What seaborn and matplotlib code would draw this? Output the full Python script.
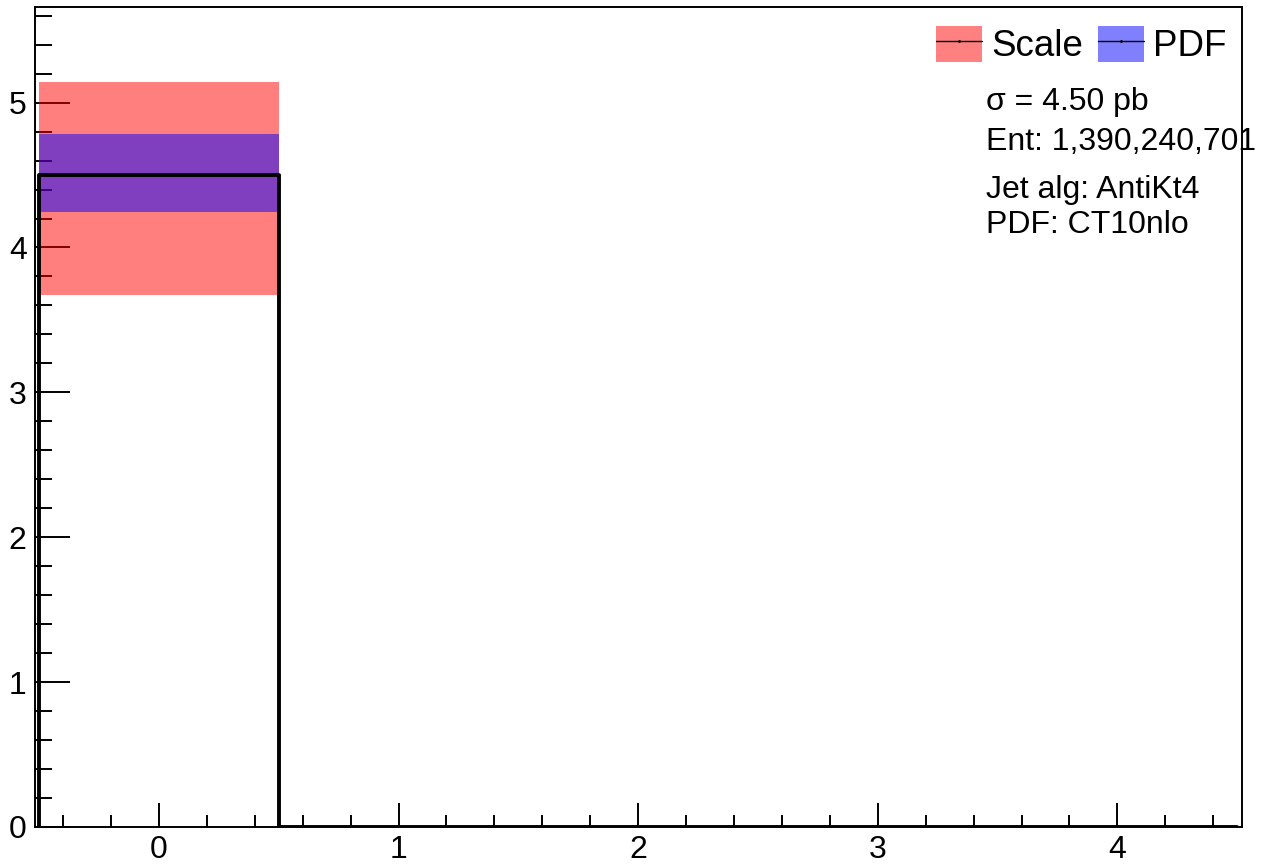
import numpy as np
import pandas as pd
import matplotlib
matplotlib.use("Agg")
import matplotlib.pyplot as plt
import seaborn as sns
from matplotlib.patches import Patch
from matplotlib.lines import Line2D
from matplotlib.legend_handler import HandlerTuple
from matplotlib.ticker import MultipleLocator

# ==========================================
# DATA
# ==========================================

bin_edges = [-0.5, 0.5, 1.5, 2.5, 3.5, 4.5]
bin_centers = [0, 1, 2, 3, 4]
xsec = [4.50, 0, 0, 0, 0]
scale_lo = [3.67, 0, 0, 0, 0]
scale_hi = [5.145, 0, 0, 0, 0]
pdf_lo = [4.247, 0, 0, 0, 0]
pdf_hi = [4.786, 0, 0, 0, 0]

info_lines = [
    "\u03c3 = 4.50 pb",
    "Ent: 1,390,240,701",
    "Jet alg: AntiKt4",
    "PDF: CT10nlo",
]

df = pd.DataFrame({"x": bin_centers, "w": xsec})

# ==========================================
# STYLE
# ==========================================

sns.set_style("ticks")
plt.rcParams["font.family"] = ["Liberation Sans", "DejaVu Sans"]
plt.rcParams["text.color"] = "black"
plt.rcParams["xtick.labelcolor"] = "black"
plt.rcParams["ytick.labelcolor"] = "black"

fig = plt.figure(figsize=(12.61, 8.65), dpi=100)
ax = fig.add_axes([35 / 1261, 38 / 865, 1207 / 1261, 820 / 865])

# ==========================================
# UNCERTAINTY BANDS
# ==========================================

ax.stairs(scale_hi, bin_edges, baseline=scale_lo, fill=True,
          color="red", alpha=0.5, lw=0, zorder=3)
ax.stairs(pdf_hi, bin_edges, baseline=pdf_lo, fill=True,
          color="blue", alpha=0.5, lw=0, zorder=3)

# ==========================================
# CENTRAL HISTOGRAM
# ==========================================

sns.histplot(
    data=df,
    x="x",
    weights="w",
    bins=bin_edges,
    element="step",
    fill=False,
    color="black",
    linewidth=2.8,
    ax=ax,
    zorder=4,
)
# left edge of the first bin up from zero
ax.vlines(bin_edges[0], 0, xsec[0], color="black", lw=2.8, zorder=4)

ax.set_xlim(-0.517, 4.52)
ax.set_ylim(0, 5.66)
ax.set_xlabel("")
ax.set_ylabel("")

ax.xaxis.set_major_locator(MultipleLocator(1))
ax.xaxis.set_minor_locator(MultipleLocator(0.2))
ax.yaxis.set_major_locator(MultipleLocator(1))
ax.yaxis.set_minor_locator(MultipleLocator(0.2))

ax.tick_params(axis="both", which="both", direction="in",
               labelsize=23, width=1.4, color="black")
ax.tick_params(axis="x", which="major", length=17, pad=6)
ax.tick_params(axis="x", which="minor", length=8.6)
ax.tick_params(axis="y", which="major", length=25, pad=6)
ax.tick_params(axis="y", which="minor", length=12.5)

for side in ["top", "right", "left", "bottom"]:
    ax.spines[side].set_visible(True)
    ax.spines[side].set_linewidth(1.4)
    ax.spines[side].set_color("black")

# ==========================================
# LEGEND AND TEXT
# ==========================================

handles = [
    (Patch(facecolor="#ff8080", lw=0),
     Line2D([], [], color="black", lw=1, marker=".", ms=2)),
    (Patch(facecolor="#8080ff", lw=0),
     Line2D([], [], color="black", lw=1, marker=".", ms=2)),
]
fig.legend(
    handles,
    ["Scale", "PDF"],
    handler_map={tuple: HandlerTuple(ndivide=1, pad=0)},
    ncol=2,
    frameon=False,
    fontsize=26.5,
    loc="upper left",
    bbox_to_anchor=(936 / 1261, 1 - 26 / 865),
    borderpad=0,
    borderaxespad=0,
    handlelength=1.25,
    handleheight=1.12,
    handletextpad=0.25,
    columnspacing=0.4,
)

baselines = [110, 150, 198, 233]
for txt, yb in zip(info_lines, baselines):
    fig.text(986 / 1261, 1 - yb / 865, txt, fontsize=23,
             va="baseline", ha="left")

plt.savefig("out.png", dpi=100)
